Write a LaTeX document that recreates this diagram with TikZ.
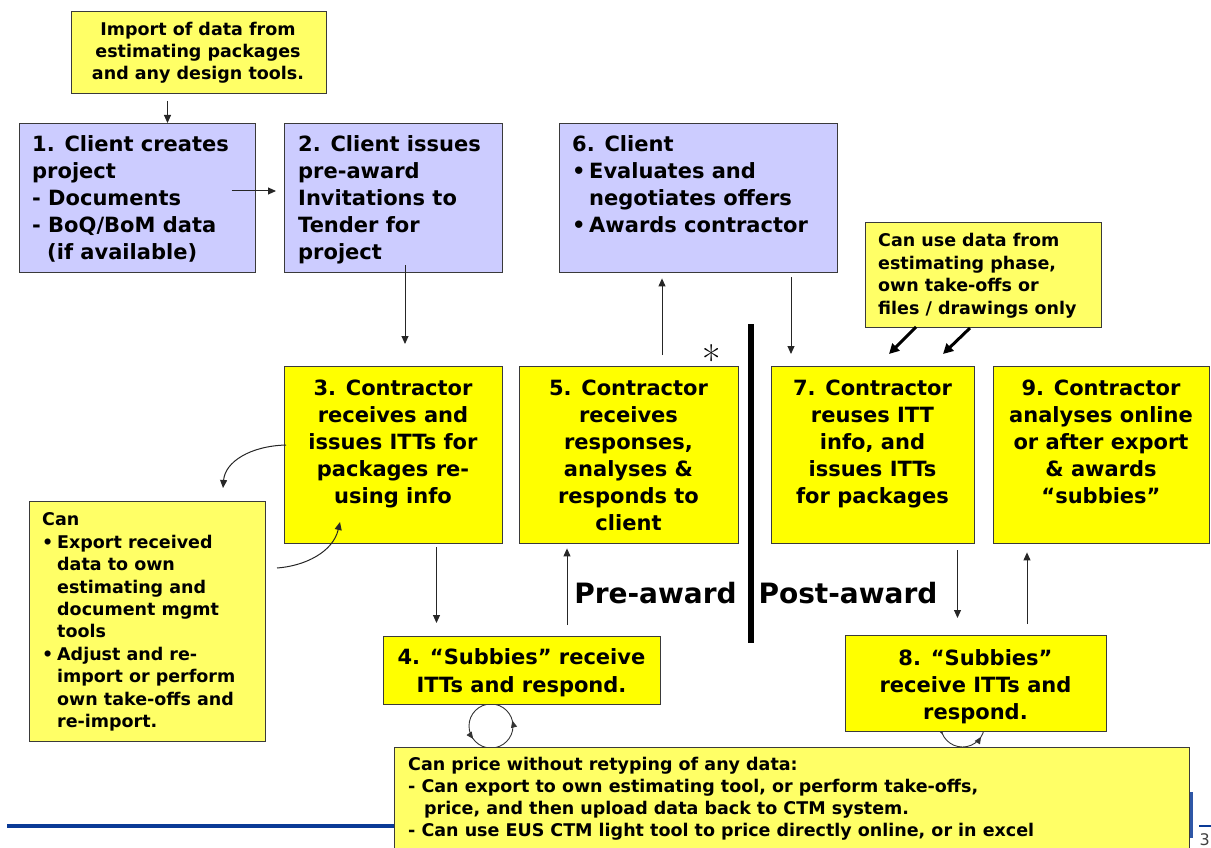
\documentclass[tikz,border=0pt]{standalone}
\usepackage{fontspec}
\setmainfont{DejaVu Sans}
\newfontfamily\starfont{Latin Modern Roman}
\usetikzlibrary{arrows.meta,decorations.markings}
\definecolor{lav}{HTML}{CCCCFF}
\definecolor{yel}{HTML}{FFFF00}
\definecolor{notefill}{HTML}{FFFF66}
\definecolor{edge}{HTML}{3A3A3A}
\definecolor{rulecol}{HTML}{0A3A96}
\begin{document}
\begin{tikzpicture}[x=1pt,y=-1pt,
  box/.style={draw=edge,line width=1.4pt,inner sep=0,anchor=north west},
  big/.style={inner sep=0,anchor=north,align=center,font=\fontsize{21}{27}\selectfont\bfseries},
  small/.style={inner sep=0,anchor=north,align=center,font=\fontsize{17.5}{22.4}\selectfont\bfseries},
  arr/.style={draw=black!85,line width=1pt,-{Triangle[length=8pt,width=7pt]}},
  fat/.style={line width=3pt,-{Triangle[length=10pt,width=10pt]}},
  cyc/.style={draw=black!80,line width=0.9pt,postaction={decorate}},
  phase/.style={inner sep=0,anchor=base,font=\fontsize{28}{30}\selectfont\bfseries}]
\useasboundingbox (0,0) rectangle (1211,848);
\clip (0,0) rectangle (1211,848);

% footer rule and page number
\coordinate (r1) at (7,826);
\coordinate (r2) at (1190,826);
\draw[rulecol,line width=3.5pt] (r1) -- (r2);
\coordinate (r3) at (1191.7,792);
\coordinate (r4) at (1191.7,838);
\draw[rulecol!85,line width=3pt] (r3) -- (r4);
\coordinate (r5) at (1199,826);
\coordinate (r6) at (1211,826);
\draw[rulecol,line width=2.5pt] (r5) -- (r6);
\node[anchor=base west,inner sep=0,text=black!75,font=\fontsize{16}{16}\selectfont] (pg) at (1199.5,845) {3};

% exchange loops under the subcontractor boxes
\draw[cyc,decoration={markings,
   mark=at position 0.35 with {\arrow{Triangle[length=7pt,width=6pt]}},
   mark=at position 0.79 with {\arrow{Triangle[length=7pt,width=6pt]}}}]
  (491,704) arc[start angle=270,end angle=-90,radius=22];
\draw[cyc,decoration={markings,
   mark=at position 0.32 with {\arrow{Triangle[length=7pt,width=6pt]}},
   mark=at position 0.66 with {\arrow{Triangle[length=7pt,width=6pt]}}}]
  (962.5,703) arc[start angle=270,end angle=-90,radius=22];

% boxes
\node[box,fill=notefill,minimum width=255,minimum height=82] (imp) at (70.5,11) {};
\node[box,fill=lav,minimum width=236,minimum height=149] (b1) at (18.5,123) {};
\node[box,fill=lav,minimum width=218,minimum height=149] (b2) at (284,123) {};
\node[box,fill=lav,minimum width=278,minimum height=149] (b6) at (559,123) {};
\node[box,fill=notefill,minimum width=236,minimum height=105] (cu) at (865,222) {};
\node[box,fill=yel,minimum width=218,minimum height=177] (b3) at (284,366) {};
\node[box,fill=yel,minimum width=219,minimum height=177] (b5) at (519,366) {};
\node[box,fill=yel,minimum width=203,minimum height=177] (b7) at (771,366) {};
\node[box,fill=yel,minimum width=216,minimum height=177] (b9) at (993,366) {};
\node[box,fill=notefill,minimum width=236,minimum height=240] (cn) at (29,501) {};
\node[box,fill=yel,minimum width=277,minimum height=68] (b4) at (383,636) {};
\node[box,fill=yel,minimum width=261,minimum height=96] (b8) at (845,635) {};
\node[box,fill=notefill,minimum width=795,minimum height=130] (nt) at (394,747) {};

% texts
\node[small] (timp) at (198,21.7) {Import of data from\\estimating packages\\and any design tools.};
\node[big,anchor=north west,align=left] (tb1) at (32,135.5)
  {1. Client creates\\project\\- Documents\\- BoQ/BoM data\\\hspace*{15pt}(if available)};
\node[big,anchor=north west,align=left] (tb2) at (298,135.5)
  {2. Client issues\\pre-award\\Invitations to\\Tender for\\project};
\node[big,anchor=north west,align=left] (tb6) at (572,135)
  {6. Client\\\makebox[17pt][l]{•}Evaluates and\\\hspace*{17pt}negotiates offers\\\makebox[17pt][l]{•}Awards contractor};
\node[small,anchor=north west,align=left] (tcu) at (878,233.4)
  {Can use data from\\estimating phase,\\own take-offs or\\files / drawings only};
\node[big] (tb3) at (393,379.5) {3. Contractor\\receives and\\issues ITTs for\\packages re-\\using info};
\node[big] (tb5) at (628.5,379.5) {5. Contractor\\receives\\responses,\\analyses \&\\responds to\\client};
\node[big] (tb7) at (872.5,379.5) {7. Contractor\\reuses ITT\\info, and\\issues ITTs\\for packages};
\node[big] (tb9) at (1101,379.5) {9. Contractor\\analyses online\\or after export\\\& awards\\“subbies”};
\node[small,anchor=north west,align=left] (tcn) at (42,512.7)
  {Can\\\makebox[15pt][l]{•}Export received\\\hspace*{15pt}data to own\\\hspace*{15pt}estimating and\\\hspace*{15pt}document mgmt\\\hspace*{15pt}tools\\\makebox[15pt][l]{•}Adjust and re-\\\hspace*{15pt}import or perform\\\hspace*{15pt}own take-offs and\\\hspace*{15pt}re-import.};
\node[big,font=\fontsize{21}{28}\selectfont\bfseries] (tb4) at (521.5,648) {4. “Subbies” receive\\ITTs and respond.};
\node[big] (tb8) at (975.5,649) {8. “Subbies”\\receive ITTs and\\respond.};
\node[small,anchor=north west,align=left,font=\fontsize{17.5}{21.7}\selectfont\bfseries] (tnt) at (408,757.4)
  {Can price without retyping of any data:\\- Can export to own estimating tool, or perform take-offs,\\\hspace*{16pt}price, and then upload data back to CTM system.\\- Can use EUS CTM light tool to price directly online, or in excel};

% award divider and phase labels
\coordinate (bar1) at (751,324);
\coordinate (bar2) at (751,643);
\draw[line width=6pt] (bar1) -- (bar2);
\node[phase] (pre) at (655.5,603) {Pre-award};
\node[phase] (post) at (848,603) {Post-award};
\node[inner sep=0,anchor=base,font=\starfont\fontsize{40}{40}\selectfont] (star) at (712,374) {*};

% flow connectors
\coordinate (p1) at (167.5,101);
\draw[arr] (p1) -- (p1 |- b1.north);
\coordinate (p2) at (231.5,191);
\draw[arr,shorten >=8pt] (p2) -- (p2 -| b2.west);
\coordinate (p3) at (405,265);
\draw[arr,shorten >=22pt] (p3) -- (p3 |- b3.north);
\coordinate (p4) at (436.5,547);
\draw[arr,shorten >=13pt] (p4) -- (p4 |- b4.north);
\coordinate (p5) at (567,625);
\draw[arr,shorten >=4pt] (p5) -- (p5 |- b5.south);
\coordinate (p6) at (662,355);
\draw[arr,shorten >=5pt] (p6) -- (p6 |- b6.south);
\coordinate (p7) at (791,277);
\draw[arr,shorten >=12pt] (p7) -- (p7 |- b7.north);
\coordinate (p8) at (957.5,550);
\draw[arr,shorten >=17pt] (p8) -- (p8 |- b8.north);
\coordinate (p9) at (1027,624);
\draw[arr,shorten >=8pt] (p9) -- (p9 |- b9.south);

% data reuse pointers
\coordinate (q1) at (916,327);
\coordinate (q1e) at (889,354);
\draw[fat] (q1) -- (q1e);
\coordinate (q2) at (970,328);
\coordinate (q2e) at (943,354);
\draw[fat] (q2) -- (q2e);

% export / re-import curves
\coordinate (c1) at (286,445);
\coordinate (c1e) at (223,488);
\draw[arr] (c1) .. controls (250,446) and (225,462) .. (c1e);
\coordinate (c2) at (277,568);
\coordinate (c2e) at (340,522);
\draw[arr] (c2) .. controls (305,566) and (333,552) .. (c2e);
\end{tikzpicture}
\end{document}
